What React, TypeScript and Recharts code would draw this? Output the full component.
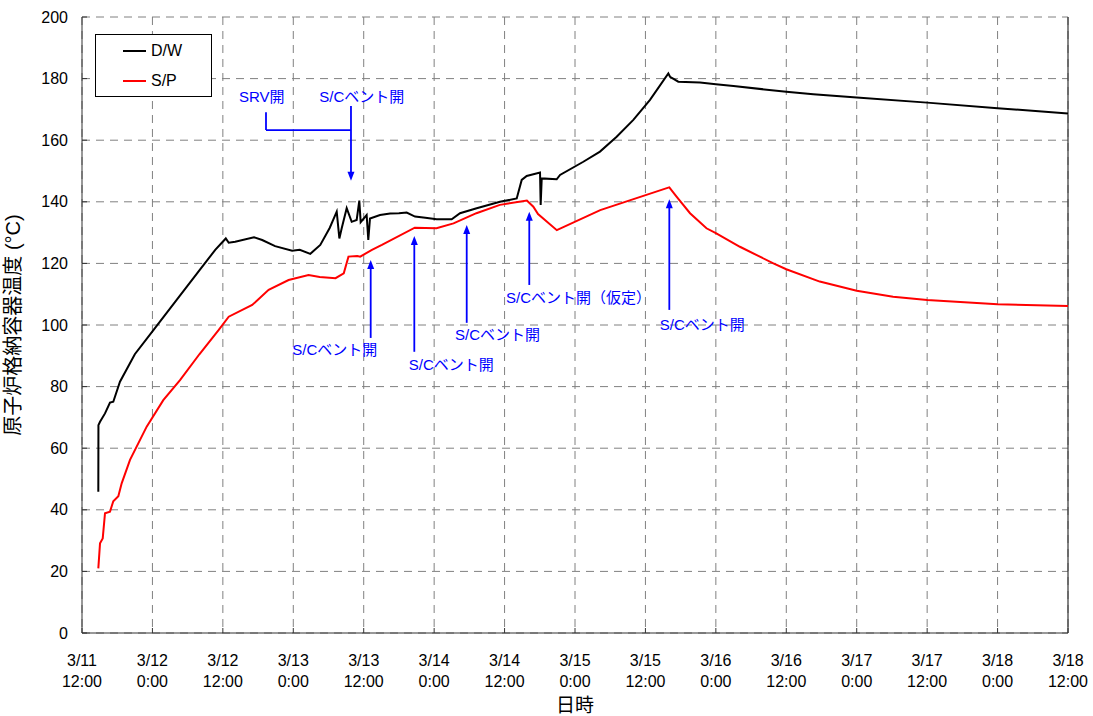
import React from 'react';
import {
  LineChart,
  Line,
  XAxis,
  YAxis,
  CartesianGrid,
  ReferenceLine,
  ReferenceDot,
  Legend,
} from 'recharts';

const FONT = "'Liberation Sans', Arial, 'Noto Sans CJK JP', sans-serif";

// x = hours elapsed since 3/11 12:00
const xTicks = [0, 12, 24, 36, 48, 60, 72, 84, 96, 108, 120, 132, 144, 156, 168];
const xTickDates = ['3/11', '3/12', '3/12', '3/13', '3/13', '3/14', '3/14', '3/15', '3/15', '3/16', '3/16', '3/17', '3/17', '3/18', '3/18'];
const xTickTimes = ['12:00', '0:00', '12:00', '0:00', '12:00', '0:00', '12:00', '0:00', '12:00', '0:00', '12:00', '0:00', '12:00', '0:00', '12:00'];
const yTicks = [0, 20, 40, 60, 80, 100, 120, 140, 160, 180, 200];

const seriesNames = ['D/W', 'S/P'];
const seriesColors = ['#000000', '#FF0000'];

// D/W temperature
const dwHours = [
  2.78, 2.8, 3.07, 3.92, 4.77, 5.33, 6.47, 9.0, 12.2, 16.0, 20.0, 22.7, 24.5, 25.0, 26.1,
  29.3, 30.7, 32.9, 35.8, 37.1, 38.9, 40.6, 42.2, 43.4, 43.85, 44.25, 45.1, 45.95, 46.8,
  47.25, 47.48, 48.5, 48.78, 49.07, 50.78, 52.5, 54.0, 55.32, 56.74, 58.5, 60.43, 62.99,
  64.41, 67.25, 71.22, 74.07, 74.92, 75.77, 78.04, 78.15, 78.33, 80.88, 81.45, 85.42,
  88.26, 91.1, 93.94, 96.78, 99.9, 100.19, 101.6, 105.3, 108.0, 111.0, 120.0, 124.6,
  132.0, 144.0, 156.0, 168.0,
];
const dwTemps = [
  45.9, 67.5, 68.6, 71.3, 74.8, 75.1, 81.6, 90.5, 98.4, 107.8, 117.7, 124.4, 128.1, 126.7, 127.0,
  128.5, 127.6, 125.6, 124.1, 124.4, 123.1, 126.0, 131.5, 136.8, 128.1, 131.4, 137.9, 133.5, 134.1,
  140.4, 133.4, 135.7, 127.6, 134.6, 135.7, 136.2, 136.3, 136.5, 135.2, 134.8, 134.3, 134.3,
  136.3, 137.9, 140.0, 141.1, 147.1, 148.4, 149.5, 139.0, 147.6, 147.3, 148.7, 153.0,
  156.3, 161.1, 166.6, 173.1, 181.7, 180.6, 179.0, 178.7, 178.2, 177.6, 175.7, 174.9,
  173.9, 172.2, 170.4, 168.7,
];

// S/P temperature
const spHours = [
  2.78, 3.07, 3.53, 3.92, 4.77, 5.33, 6.19, 6.76, 8.18, 11.02, 13.85, 16.7, 20.0, 23.3,
  25.0, 29.0, 31.8, 35.2, 38.6, 40.5, 43.2, 44.6, 45.4, 46.9, 47.4, 49.4, 51.1, 56.7,
  60.4, 63.3, 67.2, 71.2, 75.8, 76.9, 77.7, 80.9, 88.3, 99.9, 100.07, 101.3, 103.6,
  106.4, 108.0, 112.1, 117.8, 120.0, 125.7, 132.0, 138.2, 144.0, 156.0, 168.0,
];
const spTemps = [
  21.0, 29.1, 30.7, 38.9, 39.4, 42.8, 44.4, 48.6, 56.2, 67.0, 75.6, 82.1, 90.5, 98.4,
  102.7, 106.5, 111.4, 114.6, 116.2, 115.6, 115.2, 116.8, 122.2, 122.4, 122.2, 124.4, 126.0, 131.6,
  131.4, 133.0, 136.3, 139.0, 140.4, 138.4, 136.0, 130.8, 137.3, 144.6, 144.7, 141.7, 136.3,
  131.4, 129.8, 125.4, 120.0, 118.1, 114.1, 111.1, 109.2, 108.1, 106.7, 106.2,
];

const dwData = dwHours.map((h, i) => ({ h, v: dwTemps[i] }));
const spData = spHours.map((h, i) => ({ h, v: spTemps[i] }));

// Annotations (data coordinates)
const ventArrowX = [49.19, 56.62, 65.55, 76.21, 100.07];
const ventArrowTip = [121.1, 128.9, 132.5, 136.8, 140.8];
const ventArrowBase = [95.8, 91.3, 100.7, 113.0, 104.9];
const ventLabelX = [43.06, 62.92, 70.8, 84.6, 105.7];
const ventLabelY = [91.9, 87.3, 97.0, 109.0, 100.3];
const ventLabels = ['S/Cベント開', 'S/Cベント開', 'S/Cベント開', 'S/Cベント開（仮定）', 'S/Cベント開'];

const bracketLeftX = 31.35;
const bracketRightX = 45.83;
const bracketLeftTop = 169.1;
const bracketJoinY = 163.3;
const bracketRightTop = 171.1;
const bracketTip = 146.8;
const topLabelX = [30.62, 47.66];
const topLabelY = [174.1, 174.1];
const topLabels = ['SRV開', 'S/Cベント開'];

const BLUE = '#0000FF';

const ArrowHead = (props: any) => {
  const { cx, cy, dir } = props;
  if (cx == null || cy == null) return null;
  const len = 9;
  const hw = 3.5;
  const s = dir === 'down' ? -1 : 1;
  const pts = `${cx},${cy} ${cx - hw},${cy + s * len} ${cx + hw},${cy + s * len}`;
  return <polygon points={pts} fill={BLUE} stroke="none" />;
};

const AnnoText = (props: any) => {
  const { cx, cy, text } = props;
  if (cx == null || cy == null) return null;
  return (
    <text x={cx} y={cy} dy={5.5} textAnchor="middle" fontSize={15} fill={BLUE} fontFamily={FONT}>
      {text}
    </text>
  );
};

const XTick = (props: any) => {
  const { x, y, payload } = props;
  const idx = xTicks.indexOf(payload.value);
  return (
    <g>
      <text x={x} y={y + 33} textAnchor="middle" fontSize={16} fill="#000" fontFamily={FONT}>
        {xTickDates[idx]}
      </text>
      <text x={x} y={y + 54} textAnchor="middle" fontSize={16} fill="#000" fontFamily={FONT}>
        {xTickTimes[idx]}
      </text>
    </g>
  );
};

const renderLegend = () => (
  <div
    style={{
      width: 117,
      height: 63,
      border: '1px solid #000',
      background: '#fff',
      boxSizing: 'border-box',
      position: 'relative',
      fontFamily: FONT,
      fontSize: 16,
      color: '#000',
    }}
  >
    {seriesNames.map((name, i) => (
      <div
        key={name}
        style={{
          position: 'absolute',
          left: 27,
          top: 5.5 + i * 30,
          height: 20,
          display: 'flex',
          alignItems: 'center',
          whiteSpace: 'nowrap',
        }}
      >
        <div style={{ width: 23, height: 2, background: seriesColors[i] }} />
        <span style={{ marginLeft: 5 }}>{name}</span>
      </div>
    ))}
  </div>
);

const YTitle = (props: any) => {
  const vb = props.viewBox || { x: 0, y: 17, width: 82, height: 616 };
  const x = vb.x + 20;
  const y = vb.y + vb.height / 2;
  return (
    <text x={x} y={y} transform={`rotate(-90 ${x} ${y})`} textAnchor="middle" fontSize={20} fill="#000" fontFamily={FONT}>
      原子炉格納容器温度 (°C)
    </text>
  );
};

export default function App() {
  return (
    <div style={{ position: 'absolute', left: 0, top: 0, background: '#fff' }}>
      <LineChart width={1093} height={716} margin={{ top: 17, right: 25, left: 0, bottom: 0 }}>
        <CartesianGrid stroke="#808080" strokeDasharray="8 6" />
        <XAxis
          dataKey="h"
          type="number"
          domain={[0, 168]}
          ticks={xTicks}
          interval={0}
          allowDataOverflow
          height={83}
          tick={<XTick />}
          tickSize={-5}
          tickMargin={5}
          axisLine={{ stroke: '#333' }}
          tickLine={{ stroke: '#333' }}
          label={{ value: '日時', position: 'insideBottom', offset: 4, fontSize: 19, fill: '#000', fontFamily: FONT }}
        />
        <YAxis
          type="number"
          domain={[0, 200]}
          ticks={yTicks}
          interval={0}
          allowDataOverflow
          width={82}
          tickSize={-5}
          tickMargin={19}
          tick={{ fontSize: 16, fill: '#000', fontFamily: FONT }}
          axisLine={{ stroke: '#333' }}
          tickLine={{ stroke: '#333' }}
          label={{ content: (p: any) => <YTitle {...p} /> }}
        />
        <ReferenceLine x={168} stroke="#333" strokeWidth={1.2} />
        <Legend
          layout="vertical"
          align="center"
          verticalAlign="middle"
          content={renderLegend}
          wrapperStyle={{ left: 95, top: 34, width: 117, height: 63 }}
        />
        <Line
          data={dwData}
          dataKey="v"
          name={seriesNames[0]}
          type="linear"
          stroke={seriesColors[0]}
          strokeWidth={2}
          dot={false}
          activeDot={false}
          isAnimationActive={false}
        />
        <Line
          data={spData}
          dataKey="v"
          name={seriesNames[1]}
          type="linear"
          stroke={seriesColors[1]}
          strokeWidth={2}
          dot={false}
          activeDot={false}
          isAnimationActive={false}
        />
        {ventArrowX.map((x, i) => (
          <ReferenceLine
            key={'vl' + i}
            segment={[{ x, y: ventArrowBase[i] }, { x, y: ventArrowTip[i] - 1.5 }]}
            stroke={BLUE}
            strokeWidth={1.8}
          />
        ))}
        {ventArrowX.map((x, i) => (
          <ReferenceDot key={'vh' + i} x={x} y={ventArrowTip[i]} shape={(p: any) => <ArrowHead {...p} dir="up" />} />
        ))}
        {ventLabelX.map((x, i) => (
          <ReferenceDot key={'vt' + i} x={x} y={ventLabelY[i]} shape={(p: any) => <AnnoText {...p} text={ventLabels[i]} />} />
        ))}
        <ReferenceLine
          segment={[{ x: bracketLeftX, y: bracketLeftTop }, { x: bracketLeftX, y: bracketJoinY }]}
          stroke={BLUE}
          strokeWidth={1.8}
        />
        <ReferenceLine
          segment={[{ x: bracketLeftX, y: bracketJoinY }, { x: bracketRightX, y: bracketJoinY }]}
          stroke={BLUE}
          strokeWidth={1.8}
        />
        <ReferenceLine
          segment={[{ x: bracketRightX, y: bracketRightTop }, { x: bracketRightX, y: bracketTip + 1.5 }]}
          stroke={BLUE}
          strokeWidth={1.8}
        />
        <ReferenceDot x={bracketRightX} y={bracketTip} shape={(p: any) => <ArrowHead {...p} dir="down" />} />
        {topLabelX.map((x, i) => (
          <ReferenceDot key={'tt' + i} x={x} y={topLabelY[i]} shape={(p: any) => <AnnoText {...p} text={topLabels[i]} />} />
        ))}
      </LineChart>
    </div>
  );
}
